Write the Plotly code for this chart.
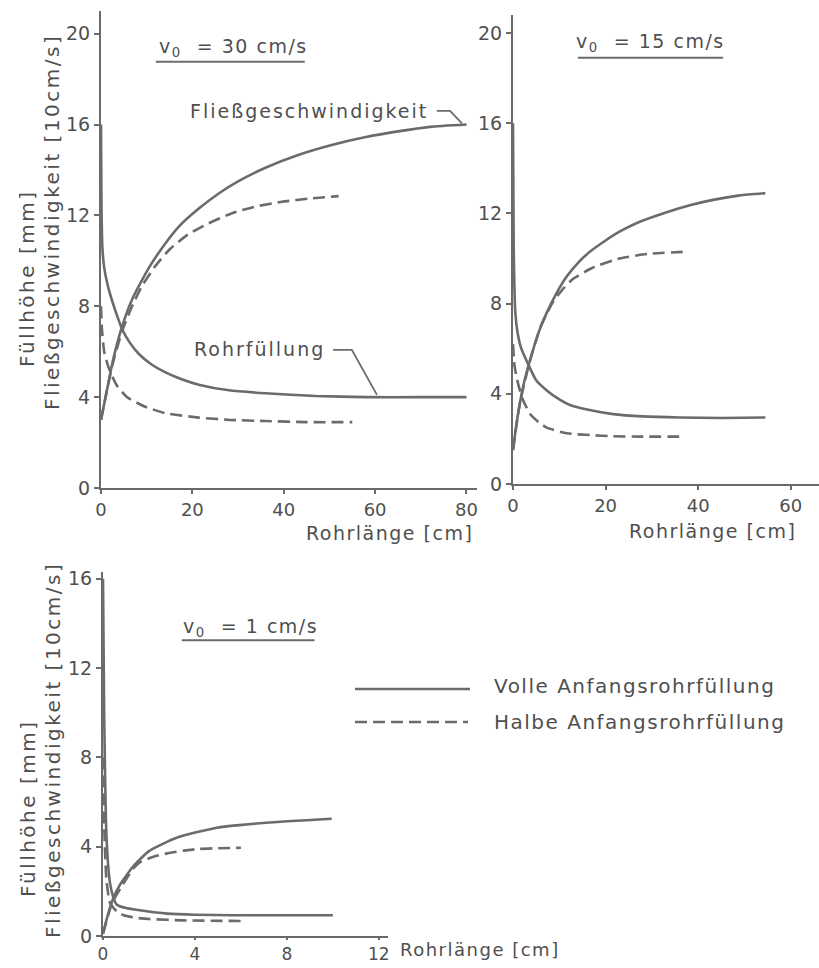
import plotly.graph_objects as go

# ---------------- data ----------------
# v0 = 30 cm/s
x30_v_full = [0, 1.2, 2.6, 4.6, 6.8, 10.5, 14.2, 17, 21.4, 26, 30, 36, 43, 50.5, 58, 65, 72, 80]
y30_v_full = [3.0, 4.2, 5.6, 7.1, 8.3, 9.7, 10.8, 11.5, 12.3, 13.0, 13.5, 14.1, 14.65, 15.1, 15.45, 15.7, 15.9, 16.0]
x30_h_full = [0, 0.1, 0.3, 0.7, 1.5, 2.5, 3.5, 4.6, 6.3, 8.3, 11, 14, 17.5, 21.4, 28, 36, 47, 58, 70, 80]
y30_h_full = [16, 12.5, 10.6, 9.7, 8.9, 8.2, 7.6, 7.0, 6.4, 5.9, 5.45, 5.1, 4.8, 4.55, 4.3, 4.17, 4.05, 4.0, 4.0, 4.0]
x30_v_half = [0, 1.2, 2.6, 4.6, 6.8, 9, 12, 15, 18.6, 23, 28.7, 34, 39.6, 46, 52]
y30_v_half = [3.0, 4.2, 5.5, 6.9, 8.0, 8.9, 9.8, 10.5, 11.1, 11.6, 12.1, 12.4, 12.6, 12.75, 12.85]
x30_h_half = [0, 0.2, 0.7, 1.5, 2.5, 3.5, 5.7, 9.4, 14, 21.4, 28, 36, 45, 55]
y30_h_half = [8.0, 7.0, 6.0, 5.4, 4.9, 4.5, 4.0, 3.6, 3.3, 3.1, 3.0, 2.95, 2.9, 2.9]

# v0 = 15 cm/s
x15_v_full = [0, 0.7, 1.5, 2.5, 3.7, 5.5, 7.3, 9.5, 11.6, 14, 16.6, 20, 23.1, 27, 32.4, 38, 43.2, 49, 54.5]
y15_v_full = [1.5, 2.6, 3.6, 4.6, 5.5, 6.7, 7.6, 8.5, 9.2, 9.8, 10.3, 10.8, 11.2, 11.6, 12.0, 12.35, 12.6, 12.8, 12.9]
x15_h_full = [0, 0.15, 0.5, 1.0, 1.8, 3.3, 5, 7.3, 10, 12.3, 16, 21.6, 28, 36, 45, 54.5]
y15_h_full = [16, 10.5, 7.6, 6.7, 6.0, 5.3, 4.6, 4.15, 3.75, 3.5, 3.3, 3.1, 3.0, 2.95, 2.93, 2.95]
x15_v_half = [0, 1.5, 3.7, 6, 8.7, 11, 13, 17.3, 23, 28.9, 37.2]
y15_v_half = [1.5, 3.6, 5.5, 7.0, 8.1, 8.7, 9.1, 9.6, 10.0, 10.2, 10.3]
x15_h_half = [0, 0.3, 0.8, 2, 3.7, 5.5, 7.3, 11.6, 16.6, 21.6, 28, 37]
y15_h_half = [6.2, 5.3, 4.7, 3.8, 3.1, 2.75, 2.5, 2.25, 2.17, 2.12, 2.1, 2.1]

# v0 = 1 cm/s
x1_v_full = [0, 0.2, 0.45, 0.74, 1.3, 2.0, 3.2, 4.95, 7.1, 9.95]
y1_v_full = [0.1, 0.9, 1.7, 2.3, 3.1, 3.8, 4.4, 4.85, 5.07, 5.25]
x1_h_full = [0, 0.05, 0.15, 0.3, 0.45, 0.6, 1.0, 1.6, 2.8, 4, 5.7, 8, 10]
y1_h_full = [16, 10, 4.5, 2.4, 1.73, 1.4, 1.25, 1.15, 1.0, 0.95, 0.93, 0.93, 0.93]
x1_v_half = [0, 0.4, 0.8, 1.3, 1.6, 2.2, 2.8, 3.5, 4.2, 5, 6]
y1_v_half = [0.1, 1.5, 2.2, 3.0, 3.3, 3.55, 3.7, 3.82, 3.9, 3.93, 3.95]
x1_h_half = [0, 0.05, 0.15, 0.3, 0.6, 0.9, 1.4, 2, 3.5, 6]
y1_h_half = [8, 5, 2.5, 1.5, 1.1, 0.93, 0.82, 0.76, 0.7, 0.67]

yticks_top = [0, 4, 8, 12, 16, 20]
xticks_30 = [0, 20, 40, 60, 80]
xticks_15 = [0, 20, 40, 60]
yticks_1 = [0, 4, 8, 12, 16]
xticks_1 = [0, 4, 8, 12]

legend_labels = ["Volle Anfangsrohrfüllung", "Halbe Anfangsrohrfüllung"]

# ---------------- style ----------------
W, H = 819, 968
LC = "#6b6b6b"
TC = "#4f4f4f"
FONT = "DejaVu Sans"
LW = 2.6
DASH = "12px,6px"

def px(xp):
    return xp / W

def py(yp):
    return (H - yp) / H

def sp(s, n=2):
    return f'<span style="letter-spacing:{n}px">{s}</span>'

fig = go.Figure()

def add(x, y, ax, dashed):
    xa = "x" if ax == 1 else f"x{ax}"
    ya = "y" if ax == 1 else f"y{ax}"
    fig.add_trace(go.Scatter(
        x=x, y=y, xaxis=xa, yaxis=ya, mode="lines",
        line=dict(color=LC, width=LW, dash=DASH if dashed else "solid",
                  shape="spline", smoothing=0.5),
        showlegend=False, hoverinfo="skip"))

add(x30_v_full, y30_v_full, 1, False)
add(x30_h_full, y30_h_full, 1, False)
add(x30_v_half, y30_v_half, 1, True)
add(x30_h_half, y30_h_half, 1, True)
add(x15_v_full, y15_v_full, 2, False)
add(x15_h_full, y15_h_full, 2, False)
add(x15_v_half, y15_v_half, 2, True)
add(x15_h_half, y15_h_half, 2, True)
add(x1_v_full, y1_v_full, 3, False)
add(x1_h_full, y1_h_full, 3, False)
add(x1_v_half, y1_v_half, 3, True)
add(x1_h_half, y1_h_half, 3, True)

def axis(domain, rng, ticks, anchor, size=19, ticklen=5):
    return dict(domain=domain, range=rng, tickvals=ticks, showgrid=False,
                zeroline=False, showline=True, linecolor=LC, linewidth=2,
                ticks="outside", ticklen=ticklen, tickcolor=LC, tickwidth=1.5,
                automargin=False,
                tickfont=dict(family=FONT, size=size, color=TC), anchor=anchor)

fig.update_layout(
    width=W, height=H, margin=dict(l=0, r=0, t=0, b=0, autoexpand=False),
    paper_bgcolor="white", plot_bgcolor="white",
    xaxis=axis([px(101), px(477)], [0, 82.3], xticks_30, "y", size=18, ticklen=4),
    yaxis=axis([py(488), py(11)], [0, 21], yticks_top, "x"),
    xaxis2=axis([px(513), 1.0], [0, 66.1], xticks_15, "y2", size=18, ticklen=4),
    yaxis2=axis([py(484), py(15)], [0, 20.8], yticks_top, "x2"),
    xaxis3=axis([px(103), px(388)], [0, 12.4], xticks_1, "y3", size=17, ticklen=2),
    yaxis3=axis([py(936), py(572)], [0, 16.3], yticks_1, "x3"),
)

ann = []
shapes = []

def txt(x, y, s, xref="paper", yref="paper", xanchor="center", size=20, angle=0):
    ann.append(dict(x=x, y=y, xref=xref, yref=yref, text=s, showarrow=False,
                    xanchor=xanchor, yanchor="middle", textangle=angle,
                    font=dict(family=FONT, size=size, color=TC)))

def seg(x0, y0, x1, y1, xref="paper", yref="paper", dash="solid", w=2):
    shapes.append(dict(type="line", x0=x0, y0=y0, x1=x1, y1=y1, xref=xref, yref=yref,
                       line=dict(color=LC, width=w, dash=dash)))

# v0 labels with underline
txt(29.1, 19.4, sp("v<sub>0</sub>  = 30 cm/s", 1.5), "x", "y", size=19)
seg(12.0, 18.77, 44.6, 18.77, "x", "y")
txt(29.6, 19.6, sp("v<sub>0</sub>  = 15 cm/s", 1.5), "x2", "y2", size=19)
seg(14.0, 18.9, 45.4, 18.9, "x2", "y2")
txt(6.43, 13.8, sp("v<sub>0</sub>  = 1 cm/s", 1.5), "x3", "y3", size=19)
seg(3.43, 13.24, 9.2, 13.24, "x3", "y3")

# curve labels with leaders (plot 1)
txt(72.0, 16.6, sp("Fließgeschwindigkeit"), "x", "y", xanchor="right", size=19)
shapes.append(dict(type="path", xref="x", yref="y",
                   path="M 73.5,16.6 L 76.4,16.6 L 79,16.05",
                   line=dict(color=LC, width=1.8)))
txt(49.5, 6.1, sp("Rohrfüllung"), "x", "y", xanchor="right", size=19)
shapes.append(dict(type="path", xref="x", yref="y",
                   path="M 50.8,6.08 L 54.9,6.08 L 60.4,4.1",
                   line=dict(color=LC, width=1.8)))

# axis titles
txt(px(475), py(533), sp("Rohrlänge [cm]", 1.5), xanchor="right", size=19)
txt(px(798), py(531), sp("Rohrlänge [cm]", 1.5), xanchor="right", size=19)
txt(px(398), py(949), sp("Rohrlänge [cm]", 1.5), xanchor="left", size=18)

txt(px(27), py(278), sp("Füllhöhe [mm]", 2.5), angle=-90)
txt(px(52), py(222), sp("Fließgeschwindigkeit [10cm/s]", 2.5), angle=-90)
txt(px(28), py(808), sp("Füllhöhe [mm]", 2.5), angle=-90)
txt(px(53), py(750), sp("Fließgeschwindigkeit [10cm/s]", 2.5), angle=-90)

# legend
seg(px(355), py(689), px(470), py(689), w=LW)
seg(px(355), py(722), px(468), py(722), dash=DASH, w=LW)
txt(px(492), py(686), sp(legend_labels[0], 1.5), xanchor="left", size=20)
txt(px(492), py(722), sp(legend_labels[1], 1.5), xanchor="left", size=20)

fig.update_layout(annotations=ann, shapes=shapes)
fig.write_html(
    "out.html",
    config={"displayModeBar": False},
    post_script="document.body.style.margin='0';document.body.style.overflow='hidden';",
)
